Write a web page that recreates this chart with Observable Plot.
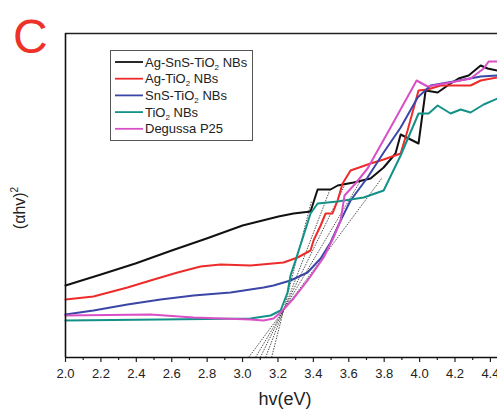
<!DOCTYPE html>
<html>
<head>
<meta charset="utf-8">
<script src="https://cdn.jsdelivr.net/npm/d3@7"></script>
<script src="https://cdn.jsdelivr.net/npm/@observablehq/plot@0.6"></script>
<style>
  html, body { margin: 0; padding: 0; background: #fff; }
  #chart { width: 497px; height: 411px; overflow: hidden; }
  svg { font-family: "Liberation Sans", Arial, sans-serif; }
</style>
</head>
<body>
<div id="chart"></div>
<script>
// ---- data (y in arbitrary units) ----
const seriesNames = ["Ag-SnS-TiO2 NBs", "Ag-TiO2 NBs", "SnS-TiO2 NBs", "TiO2 NBs", "Degussa P25"];
const seriesColors = ["#111111", "#ee2b2b", "#3b46a6", "#129188", "#d94fc6"];

const agSnSTiO2X = [2.0, 2.2, 2.395, 2.6, 2.797, 3.0, 3.203, 3.288, 3.384, 3.424, 3.497, 3.537, 3.627, 3.723, 3.797, 3.864, 3.893, 3.994, 4.034, 4.102, 4.175, 4.22, 4.277, 4.345, 4.384, 4.44];
const agSnSTiO2Y = [72, 83, 94, 107, 119, 132, 141, 144, 146, 168, 168, 172, 175, 179, 190, 204, 223, 214, 267, 265, 274, 279, 282, 292, 289, 287];

const agTiO2X = [2.0, 2.158, 2.35, 2.48, 2.633, 2.763, 2.876, 3.045, 3.232, 3.311, 3.384, 3.401, 3.441, 3.469, 3.508, 3.537, 3.565, 3.61, 3.723, 3.797, 3.893, 3.932, 3.994, 4.045, 4.119, 4.215, 4.288, 4.345, 4.44];
const agTiO2Y = [58, 61, 70, 77, 85, 91, 93, 92, 95, 100, 107, 117, 132, 144, 144, 157, 174, 187, 194, 198, 204, 227, 267, 268, 272, 272, 272, 277, 280];

const snsTiO2X = [2.0, 2.158, 2.35, 2.537, 2.723, 2.932, 3.119, 3.175, 3.271, 3.367, 3.441, 3.497, 3.554, 3.61, 3.706, 3.797, 3.893, 3.989, 4.062, 4.192, 4.345, 4.44];
const snsTiO2Y = [43, 47, 53, 58, 62, 65, 70, 72, 77, 85, 99, 115, 137, 157, 180, 205, 230, 260, 272, 276, 281, 282];

const tiO2X = [2.0, 2.537, 3.045, 3.158, 3.215, 3.254, 3.271, 3.299, 3.339, 3.384, 3.424, 3.537, 3.684, 3.797, 3.893, 3.994, 4.051, 4.102, 4.175, 4.232, 4.288, 4.362, 4.44];
const tiO2Y = [37, 38, 39, 42, 47, 65, 82, 97, 119, 144, 154, 156, 160, 167, 202, 244, 244, 252, 244, 248, 245, 253, 259];

const p25X = [2.0, 2.48, 2.723, 3.045, 3.119, 3.175, 3.215, 3.288, 3.367, 3.458, 3.514, 3.554, 3.576, 3.638, 3.706, 3.836, 3.983, 4.045, 4.175, 4.288, 4.362, 4.39, 4.44];
const p25Y = [42, 43, 40, 38, 37, 39, 45, 59, 77, 100, 120, 137, 162, 174, 189, 230, 277, 271, 275, 279, 289, 296, 296];

// tangent (Tauc extrapolation) lines: from x-intercept to end point
const tangentX0 = [3.034, 3.073, 3.10, 3.13, 3.164];
const tangentX1 = [3.785, 3.667, 3.576, 3.492, 3.39];
const tangentY1 = [179, 177, 172, 167, 157];

const xMajorTicks = [2.0, 2.2, 2.4, 2.6, 2.8, 3.0, 3.2, 3.4, 3.6, 3.8, 4.0, 4.2, 4.4];
const xMinorTicks = [2.1, 2.3, 2.5, 2.7, 2.9, 3.1, 3.3, 3.5, 3.7, 3.9, 4.1, 4.3];

const xLabel = "hv(eV)";
const yLabel = "(αhv)";
const panelLetter = "C";

// ---- build tables ----
const seriesX = [agSnSTiO2X, agTiO2X, snsTiO2X, tiO2X, p25X];
const seriesY = [agSnSTiO2Y, agTiO2Y, snsTiO2Y, tiO2Y, p25Y];
const rows = [];
seriesNames.forEach((name, i) => {
  seriesX[i].forEach((x, j) => rows.push({series: name, x, y: seriesY[i][j]}));
});
const tangents = tangentX0.map((x0, i) => ({x1: x0, y1: 0, x2: tangentX1[i], y2: tangentY1[i]}));

const chart = Plot.plot({
  width: 497,
  height: 411,
  marginLeft: 65,
  marginRight: 0,
  marginTop: 33,
  marginBottom: 54,
  style: {fontFamily: "Liberation Sans, Arial, sans-serif", fontSize: "13px", color: "#222"},
  x: {domain: [2.0, 4.44]},
  y: {domain: [0, 324], axis: null},
  color: {domain: seriesNames, range: seriesColors},
  marks: [
    Plot.axisX({ticks: xMinorTicks, tickSize: 3, tickFormat: () => "", label: null, strokeWidth: 1.2}),
    Plot.axisX({ticks: xMajorTicks, tickSize: 5, tickPadding: 6, tickFormat: d3.format(".1f"), label: null, strokeWidth: 1.2, fontSize: 13}),
    Plot.link(tangents, {x1: "x1", y1: "y1", x2: "x2", y2: "y2", stroke: "#222", strokeWidth: 0.8, strokeDasharray: "1.5,1.2"}),
    Plot.line(rows, {x: "x", y: "y", z: "series", stroke: "series", strokeWidth: 2, strokeLinejoin: "round"}),
    Plot.ruleY([0], {stroke: "#111", strokeWidth: 1.6}),
    Plot.ruleY([324], {stroke: "#222", strokeWidth: 1.6}),
    Plot.ruleX([2.0], {stroke: "#111", strokeWidth: 1.6})
  ]
});

document.getElementById("chart").appendChild(chart);

const svg = d3.select(chart);

// panel letter
svg.append("text").attr("x", 13).attr("y", 53).attr("fill", "#ec3229").attr("text-anchor", "start")
  .attr("font-size", 48).attr("font-family", "Liberation Sans, Arial, sans-serif").text(panelLetter);

// x label
svg.append("text").attr("x", 285).attr("y", 405).attr("text-anchor", "middle")
  .attr("font-size", 18).attr("fill", "#222").text(xLabel);

// y label (rotated) with superscript
const yl = svg.append("text").attr("transform", "translate(25,208) rotate(-90)")
  .attr("text-anchor", "middle").attr("font-size", 16).attr("fill", "#222");
yl.append("tspan").text(yLabel);
yl.append("tspan").attr("font-size", 10).attr("dy", -7).text("2");

// legend
const lg = svg.append("g").attr("text-anchor", "start");
lg.append("rect").attr("x", 110.5).attr("y", 50.5).attr("width", 142).attr("height", 90)
  .attr("fill", "#fff").attr("stroke", "#555").attr("stroke-width", 1);
seriesNames.forEach((name, i) => {
  const yy = 62 + i * 16.7;
  lg.append("line").attr("x1", 115).attr("x2", 143).attr("y1", yy).attr("y2", yy)
    .attr("stroke", seriesColors[i]).attr("stroke-width", 1.8);
  const t = lg.append("text").attr("x", 145).attr("y", yy + 4.5).attr("font-size", 13)
    .attr("fill", "#222").attr("text-anchor", "start");
  const idx = name.indexOf("TiO2");
  if (idx >= 0) {
    t.append("tspan").text(name.slice(0, idx + 3));
    t.append("tspan").attr("font-size", 8).attr("dy", 3).text("2");
    t.append("tspan").attr("dy", -3).text(name.slice(idx + 4));
  } else {
    t.text(name);
  }
});
</script>
</body>
</html>
